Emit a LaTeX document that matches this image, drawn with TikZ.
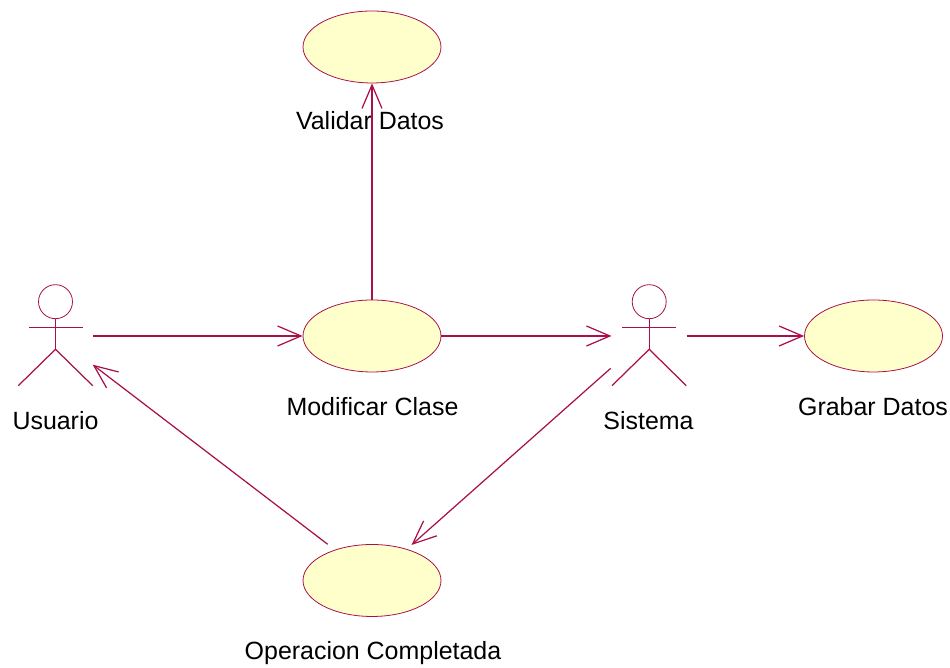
\documentclass[tikz,border=0pt]{standalone}
\usepackage{fontspec}
\setmainfont{Liberation Sans}
\usetikzlibrary{arrows.meta,shapes.geometric}
\definecolor{umlline}{HTML}{A80F4B}
\definecolor{umlfill}{HTML}{FFFFCB}
\tikzset{
  usecase/.style={ellipse,draw=umlline,fill=umlfill,line width=0.45pt,minimum width=2.76cm,minimum height=1.44cm,inner sep=0pt},
  actorhead/.style={circle,draw=umlline,line width=0.45pt,minimum size=0.68cm,inner sep=0pt},
  umllabel/.style={inner sep=0pt,font=\fontsize{14.2}{16}\selectfont,text=black},
  link/.style={umlline,line width=0.7pt,-{Straight Barb[length=0.47cm,width=0.4cm,line width=0.7pt]}},
  limb/.style={umlline,line width=0.7pt}
}
\begin{document}
\begin{tikzpicture}[x=0.02cm,y=0.02cm]
\useasboundingbox (0,0) rectangle (950,668);
\node[usecase] (ValidarDatos) at (372,621) {};
\node[usecase] (ModificarClase) at (372,332) {};
\node[usecase] (GrabarDatos) at (873.5,332) {};
\node[usecase] (OperacionCompletada) at (372,87.5) {};
\node[umllabel] (lblValidar) at (370,547) {Validar Datos};
\node[umllabel] (lblModificar) at (372.5,261) {Modificar Clase};
\node[umllabel] (lblGrabar) at (873,261) {Grabar Datos};
\node[umllabel] (lblOperacion) at (373,14.5) {Operacion Completada};
\node[umllabel] (lblUsuario) at (55.5,247) {Usuario};
\node[umllabel] (lblSistema) at (648.5,247) {Sistema};
\node[actorhead] (UsuarioHead) at (55.5,366.3) {};
\coordinate (UsuarioArmL) at (29,340.7);
\coordinate (UsuarioArmR) at (82.5,340.7);
\coordinate (UsuarioHip) at (55.5,318.7);
\coordinate (UsuarioFootL) at (18.3,282.3);
\coordinate (UsuarioFootR) at (92.7,282.3);
\draw[limb] (UsuarioHead.south) -- (UsuarioHip);
\draw[limb] (UsuarioArmL) -- (UsuarioArmR);
\draw[limb] (UsuarioFootL) -- (UsuarioHip) -- (UsuarioFootR);
\node[actorhead] (SistemaHead) at (649.2,366.3) {};
\coordinate (SistemaArmL) at (622.3,340.7);
\coordinate (SistemaArmR) at (676,340.7);
\coordinate (SistemaHip) at (649.2,318.7);
\coordinate (SistemaFootL) at (612,282.3);
\coordinate (SistemaFootR) at (686.3,282.3);
\draw[limb] (SistemaHead.south) -- (SistemaHip);
\draw[limb] (SistemaArmL) -- (SistemaArmR);
\draw[limb] (SistemaFootL) -- (SistemaHip) -- (SistemaFootR);
\coordinate (UsuarioOut) at (93,332);
\coordinate (UsuarioIn) at (92.7,303.3);
\coordinate (SistemaIn) at (611.5,332);
\coordinate (SistemaOut) at (686.7,332);
\coordinate (SistemaDown) at (610.7,299.7);
\coordinate (OperacionIn) at (411.5,123);
\coordinate (OperacionOut) at (327.7,123.7);
\draw[link] (UsuarioOut) -- (ModificarClase.west);
\draw[link] (ModificarClase.east) -- (SistemaIn);
\draw[link] (SistemaOut) -- (GrabarDatos.west);
\draw[link] (ModificarClase.north) -- (ValidarDatos.south);
\draw[link] (SistemaDown) -- (OperacionIn);
\draw[link] (OperacionOut) -- (UsuarioIn);
\end{tikzpicture}
\end{document}
